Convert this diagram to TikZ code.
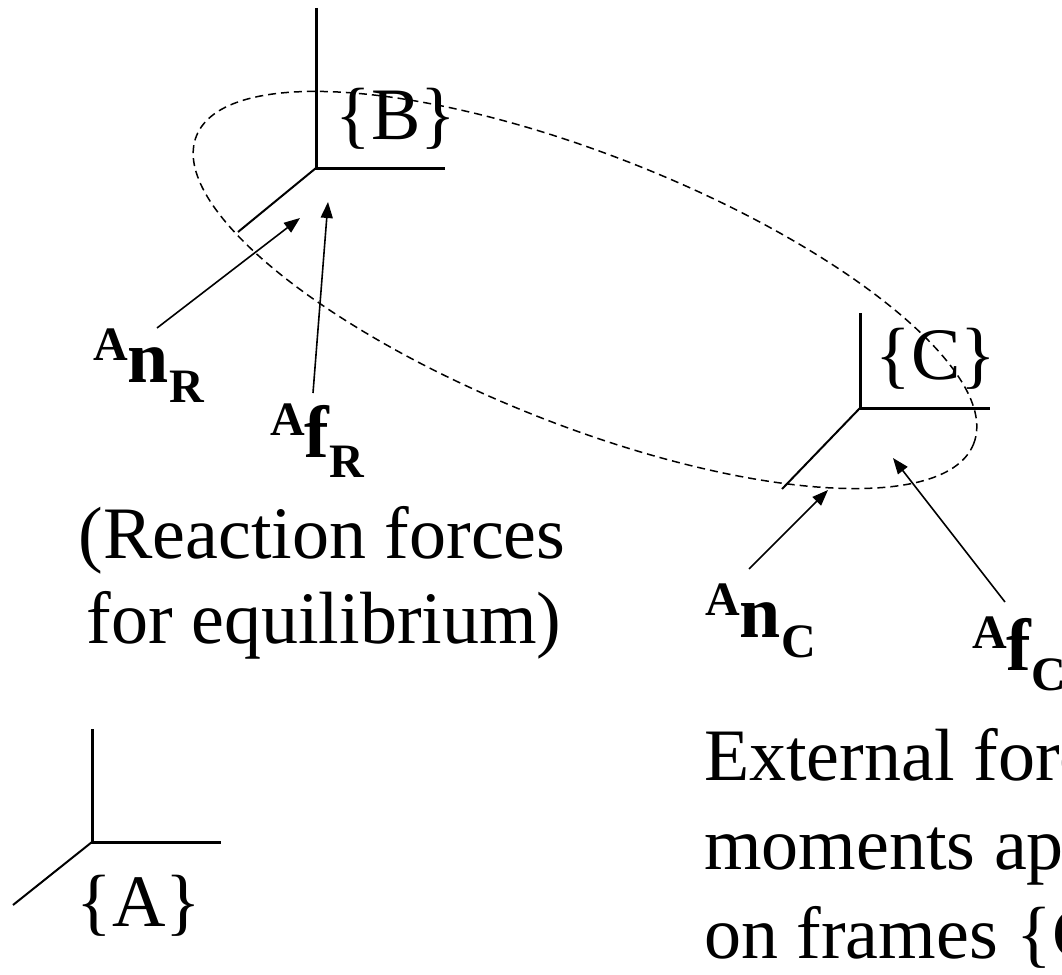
\documentclass[tikz,border=0pt]{standalone}
\usepackage{fontspec}
\setmainfont{Liberation Serif}
\usetikzlibrary{arrows.meta}
\newcommand\forcelabel[3]{\raisebox{22pt}{\fontsize{48}{48}\selectfont #1}#2\raisebox{-20pt}{\fontsize{48}{48}\selectfont #3}}
\begin{document}
\begin{tikzpicture}[x=1pt,y=1pt,
  axis/.style={line width=3pt},
  diag/.style={line width=2pt},
  force/.style={line width=1.6pt,-{Triangle[length=16pt,width=12pt]}},
  boundary/.style={line width=1.5pt,dash pattern=on 8pt off 5pt},
  txt/.style={inner sep=0pt,font=\fontsize{74}{88}\selectfont},
  lbl/.style={inner sep=0pt,font=\fontsize{74}{88}\selectfont\bfseries,anchor=base west}]
\useasboundingbox (0,0) rectangle (1062,-974);
\clip (0,0) rectangle (1062,-974);

% frame B
\coordinate (oB) at (316,-168);
\coordinate (zB) at (316,-8);
\coordinate (xB) at (445,-168);
\coordinate (dB) at (238,-232);
\draw[axis] (zB) -- (oB) -- (xB);
\draw[diag] (oB) -- (dB);
\node[txt,anchor=base] (fB) at (396,-139) {\{B\}};

% frame C
\coordinate (oC) at (860,-408);
\coordinate (zC) at (860,-313);
\coordinate (xC) at (990,-408);
\coordinate (dC) at (782,-489);
\draw[axis] (zC) -- (oC) -- (xC);
\draw[diag] (oC) -- (dC);
\node[txt,anchor=base] (fC) at (936,-379) {\{C\}};

% frame A
\coordinate (oA) at (92,-842);
\coordinate (zA) at (92,-729);
\coordinate (xA) at (221,-842);
\coordinate (dA) at (13,-905);
\draw[axis] (zA) -- (oA) -- (xA);
\draw[diag] (oA) -- (dA);
\node[txt,anchor=base] (fA) at (139,-926) {\{A\}};

% system boundary
\coordinate (ec) at (585,-290);
\draw[boundary,rotate around={-21.6:(ec)}] (ec) ellipse [x radius=418pt,y radius=135pt];

% force labels
\node[lbl] (nR) at (93,-382) {\forcelabel{A}{n}{R}};
\node[lbl] (fR) at (270,-457) {\forcelabel{A}{f}{R}};
\node[lbl] (nC) at (705,-637) {\forcelabel{A}{n}{C}};
\node[lbl] (fCl) at (972,-670) {\forcelabel{A}{f}{C}};

% arrows
\coordinate (nRs) at (157,-328);
\coordinate (nRt) at (300,-218);
\coordinate (fRs) at (313,-393);
\coordinate (fRt) at (328,-202);
\coordinate (nCs) at (749,-569);
\coordinate (nCt) at (828,-490);
\coordinate (fCs) at (1005,-602);
\coordinate (fCt) at (893,-458);
\draw[force] (nRs) -- (nRt);
\draw[force] (fRs) -- (fRt);
\draw[force] (nCs) -- (nCt);
\draw[force] (fCs) -- (fCt);

% explanatory texts
\node[txt,anchor=base] (r1) at (322,-558) {(Reaction forces};
\node[txt,anchor=base] (r2) at (324,-643) {for equilibrium)};
\node[txt,anchor=base west] (e1) at (704,-780) {External forces and};
\node[txt,anchor=base west] (e2) at (704,-869) {moments applied};
\node[txt,anchor=base west] (e3) at (704,-958) {on frames \{C\}};
\end{tikzpicture}
\end{document}
